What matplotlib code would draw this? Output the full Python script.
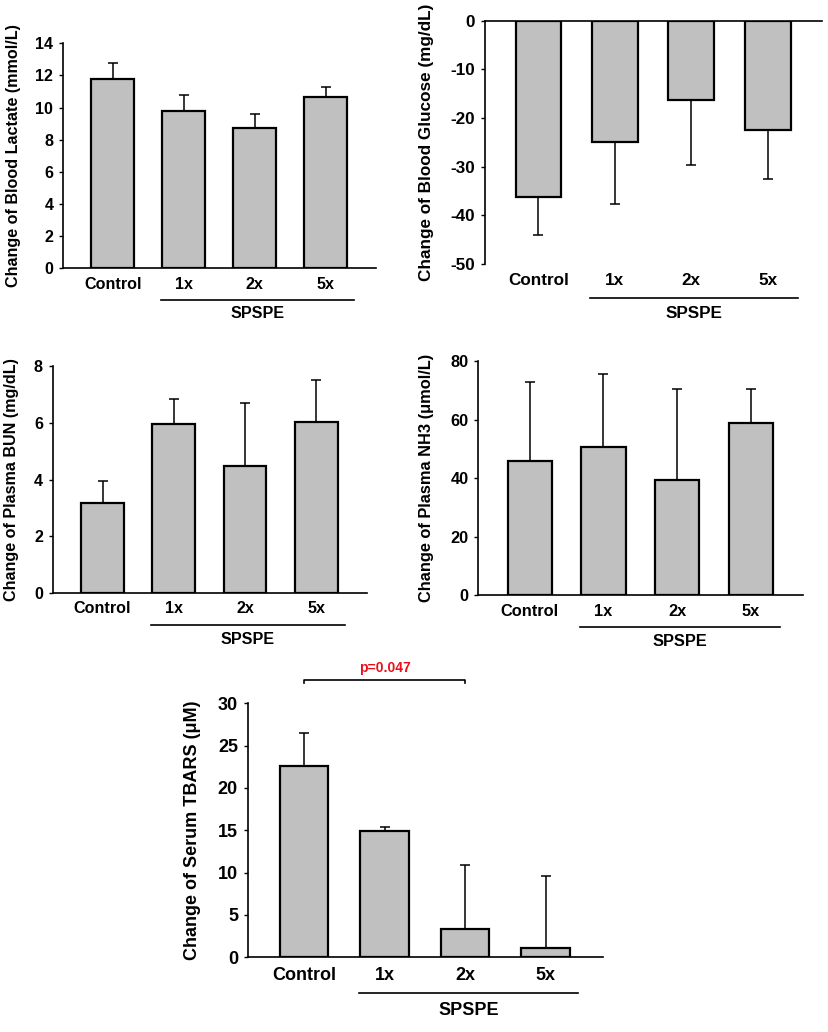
import matplotlib
matplotlib.use('Agg')
import matplotlib.pyplot as plt
import matplotlib.transforms as mtransforms
import numpy as np

plt.rcParams['font.family'] = ['Liberation Sans', 'DejaVu Sans']
plt.rcParams['font.weight'] = 'bold'

W, H = 829, 1032

groups = ['Control', '1x', '2x', '5x']
group_label = 'SPSPE'

# means and error lengths
lactate = [11.8, 9.78, 8.74, 10.63]
lactate_err = [0.95, 0.98, 0.86, 0.67]

glucose = [-36.2, -25.0, -16.3, -22.5]
glucose_err = [7.9, 12.6, 13.3, 10.1]

bun = [3.18, 5.95, 4.48, 6.04]
bun_err = [0.77, 0.90, 2.21, 1.48]

nh3 = [45.8, 50.5, 39.4, 58.8]
nh3_err = [27.1, 25.0, 31.0, 11.6]

tbars = [22.55, 14.91, 3.38, 1.06]
tbars_err = [4.0, 0.47, 7.48, 8.5]

p_text = 'p=0.047'


fig = plt.figure(figsize=(W / 100, H / 100), dpi=100)


def add_panel(x0, x1, ytop, ybot):
    """Axes placed by pixel box (left, right, top, bottom)."""
    ax = fig.add_axes([x0 / W, 1 - ybot / H, (x1 - x0) / W, (ybot - ytop) / H])
    return ax, ybot - ytop


def draw_panel(box, values, errs, ylim, yticks, ylabel, label_x, fs,
               line_off=32, text_off=46, xpad=6.5, negative=False):
    ax, h_px = add_panel(*box)
    x = np.arange(len(groups))
    ax.bar(x, values, width=0.6, color='#c0c0c0', edgecolor='black',
           linewidth=1.6, zorder=2)
    zeros = np.zeros(len(errs))
    yerr = [errs, zeros] if negative else [zeros, errs]
    ax.errorbar(x, values, yerr=yerr, fmt='none', ecolor='black',
                elinewidth=1.1, capsize=3.5, capthick=1.1, zorder=1)

    ax.set_xlim(-0.70, 3.71)
    ax.set_ylim(*ylim)
    ax.set_yticks(yticks)
    ax.set_yticklabels([str(t) for t in yticks], fontsize=fs, fontweight='bold')
    ax.set_xticks(x)
    ax.set_xticklabels(groups, fontsize=fs, fontweight='bold')
    ax.tick_params(axis='x', length=0, pad=xpad)
    ax.tick_params(axis='y', direction='out', length=3, width=1, pad=4)

    ax.spines['right'].set_visible(False)
    if negative:
        ax.spines['bottom'].set_visible(False)
        ax.spines['top'].set_linewidth(1.2)
    else:
        ax.spines['top'].set_visible(False)
        ax.spines['bottom'].set_linewidth(1.2)
    ax.spines['left'].set_linewidth(1.2)

    ax.set_ylabel(ylabel, fontsize=fs, fontweight='bold')
    ax.yaxis.set_label_coords(label_x, 0.5)

    # group bracket under the SPSPE doses
    trans = mtransforms.blended_transform_factory(ax.transData, ax.transAxes)
    ax.plot([0.68, 3.40], [-line_off / h_px] * 2, color='black', lw=1.2,
            transform=trans, clip_on=False)
    ax.text(2.04, -text_off / h_px, group_label, transform=trans, ha='center',
            va='center', fontsize=fs, fontweight='bold')
    return ax


draw_panel((63, 376, 43.3, 268), lactate, lactate_err, (0, 14), list(range(0, 15, 2)),
           'Change of Blood Lactate (mmol/L)', (20.7 - 63) / 313, 11.6)

draw_panel((485, 822, 20.7, 264), glucose, glucose_err, (-50, 0), list(range(-50, 1, 10)),
           'Change of Blood Glucose (mg/dL)', (434 - 485) / 337, 12.3,
           line_off=34, text_off=50, negative=True)

draw_panel((52.7, 366.7, 366, 593.3), bun, bun_err, (0, 8), [0, 2, 4, 6, 8],
           'Change of Plasma BUN (mg/dL)', (19 - 52.7) / 314, 11.6, xpad=5.8)

draw_panel((478.3, 803, 361, 595.3), nh3, nh3_err, (0, 80), [0, 20, 40, 60, 80],
           'Change of Plasma NH3 (\u03bcmol/L)', (434 - 478.3) / 324.7, 11.8)

ax5 = draw_panel((247.7, 602.7, 703.3, 957.3), tbars, tbars_err, (0, 30), [0, 5, 10, 15, 20, 25, 30],
                 'Change of Serum TBARS (\u03bcM)', (200.7 - 247.7) / 355, 13,
                 line_off=35.4, text_off=53, xpad=6.8)

# significance bracket Control vs 2x
ax5.plot([0, 0, 2, 2], [32.4, 32.8, 32.8, 32.4], color='black', lw=1.2, clip_on=False)
ax5.text(1.0, 33.3, p_text, color='#e8101a', ha='center', va='bottom',
         fontsize=10, fontweight='bold')

fig.savefig('out.png', dpi=100, facecolor='white')
plt.close(fig)
